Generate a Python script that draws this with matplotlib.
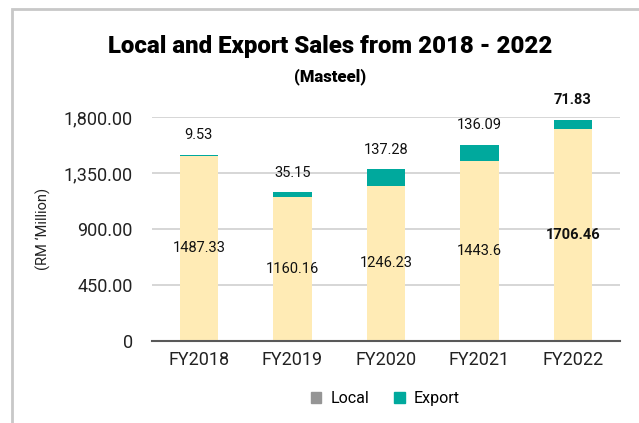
import matplotlib.pyplot as plt
from matplotlib.patches import Patch, Rectangle

plt.rcParams['font.family'] = ['Roboto', 'DejaVu Sans']

years = ['FY2018', 'FY2019', 'FY2020', 'FY2021', 'FY2022']
local = [1487.33, 1160.16, 1246.23, 1443.6, 1706.46]
export = [9.53, 35.15, 137.28, 136.09, 71.83]
local_labels = ['1487.33', '1160.16', '1246.23', '1443.6', '1706.46']
export_labels = ['9.53', '35.15', '137.28', '136.09', '71.83']
yticks = [0, 450, 900, 1350, 1800]
ytick_labels = ['0', '450.00', '900.00', '1,350.00', '1,800.00']

local_color = '#FFEBB5'
export_color = '#00A99D'

fig = plt.figure(figsize=(6.39, 4.23), dpi=100)
ax = fig.add_axes([0.238, 0.194, 0.732, 0.529])

x = range(len(years))
ax.bar(x, local, width=0.41, color=local_color, zorder=2)
ax.bar(x, export, width=0.41, bottom=local, color=export_color, zorder=2)

# data labels, last year is bold
for i in x:
    w = 'bold' if i == len(years) - 1 else 'normal'
    ax.text(i, local[i] / 2, local_labels[i], ha='center', va='center',
            fontsize=10.5, fontweight=w, color='#111111', zorder=3)
    ax.annotate(export_labels[i], xy=(i, local[i] + export[i]),
                xytext=(0, 14), textcoords='offset points',
                ha='center', va='center', fontsize=10.5, fontweight=w,
                color='#111111', annotation_clip=False)

ax.set_ylim(0, 1800)
ax.set_xlim(-0.5, len(years) - 0.5)
ax.set_yticks(yticks)
ax.set_yticklabels(ytick_labels)
ax.set_xticks(list(x))
ax.set_xticklabels(years)
ax.tick_params(axis='y', length=0, pad=14, labelsize=13, labelcolor='#222222')
ax.tick_params(axis='x', length=0, pad=7, labelsize=13, labelcolor='#222222')
ax.grid(axis='y', color='#cfcfcf', lw=1.2, zorder=0)
for s in ['top', 'right', 'left']:
    ax.spines[s].set_visible(False)
ax.spines['bottom'].set_color('#595959')
ax.spines['bottom'].set_linewidth(1.5)
ax.spines['bottom'].set_zorder(4)

fig.text(0.068, 0.459, '(RM \u2018Million)', rotation=90, ha='center',
         va='center', fontsize=10.5, color='#222222')

fig.text(0.517, 0.891, 'Local and Export Sales from 2018 - 2022', ha='center',
         va='center', fontsize=17.3, fontweight='black', color='black')
fig.text(0.517, 0.818, '(Masteel)', ha='center', va='center', fontsize=12,
         fontweight='black', color='black')

handles = [Patch(color='#959595', label='Local'),
           Patch(color=export_color, label='Export')]
fig.legend(handles=handles, loc='center', bbox_to_anchor=(0.603, 0.057),
           ncol=2, frameon=False, fontsize=11.5, handlelength=0.65,
           handleheight=0.65, handletextpad=0.55, columnspacing=1.6)

# outer frame of the chart box
fig.patches.append(Rectangle((0.019, -0.1), 1.2, 1.1 - 0.021,
                             transform=fig.transFigure, fill=False,
                             ec='#c8c8c8', lw=2))

fig.savefig('out.png', dpi=100)
